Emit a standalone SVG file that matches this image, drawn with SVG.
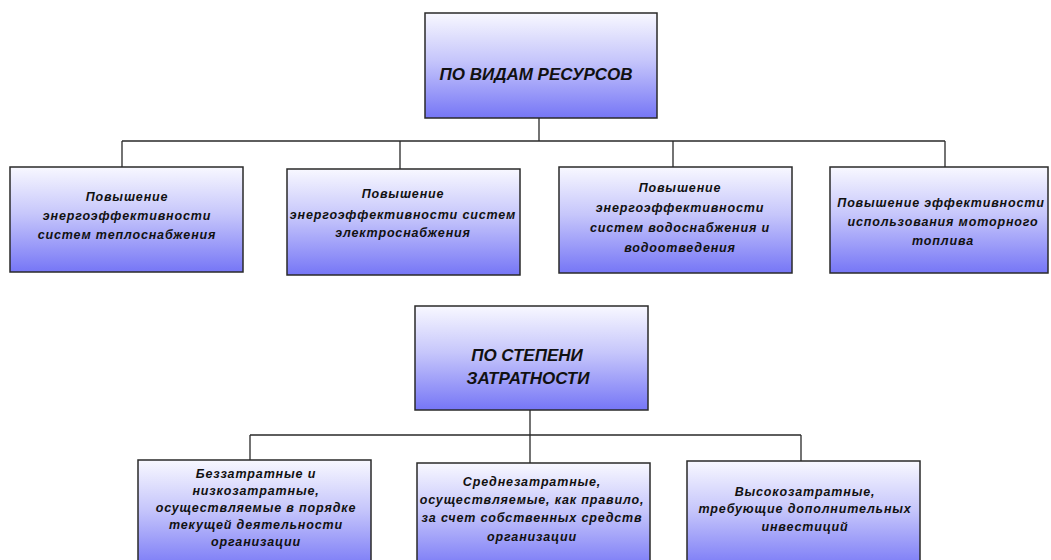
<svg xmlns="http://www.w3.org/2000/svg" width="1051" height="560" viewBox="0 0 1051 560">
<defs>
<linearGradient id="g" x1="0" y1="0" x2="0" y2="1">
<stop offset="0" stop-color="#f8f8ff"/>
<stop offset="0.45" stop-color="#c6c6fb"/>
<stop offset="1" stop-color="#7676f6"/>
</linearGradient>
<style>
.box{fill:url(#g);stroke:#2a2a2a;stroke-width:1.5}
.t{font-family:"Liberation Sans",Arial,sans-serif;font-style:italic;font-weight:bold;font-size:12.5px;letter-spacing:0.85px;fill:#111;text-anchor:middle}
.h{font-family:"Liberation Sans",Arial,sans-serif;font-style:italic;font-weight:bold;font-size:17px;letter-spacing:0px;fill:#111;text-anchor:middle}
.c{fill:none;stroke:#2a2a2a;stroke-width:1.3}
</style>
</defs>
<rect width="1051" height="560" fill="#ffffff"/>
<g id="connectors">
<path class="c" d="M539 118V141M122 141H945M122 141V167M400 141V169M673 141V167M945 141V167"/>
<path class="c" d="M530 410V435M250 435H801M250 435V460M530 435V463M801 435V461"/>
</g>
<g id="n-resources">
<rect class="box" x="425" y="13" width="232" height="105"/>
<text class="h" x="536" y="80">ПО ВИДАМ РЕСУРСОВ</text>
</g>
<g id="n-heat">
<rect class="box" x="10" y="167" width="233" height="105"/>
<text class="t" x="127" y="201">Повышение</text>
<text class="t" x="127" y="220">энергоэффективности</text>
<text class="t" x="127" y="239">систем теплоснабжения</text>
</g>
<g id="n-electric">
<rect class="box" x="287" y="169" width="233" height="106"/>
<text class="t" x="403" y="198">Повышение</text>
<text class="t" x="403" y="219">энергоэффективности систем</text>
<text class="t" x="403" y="237">электроснабжения</text>
</g>
<g id="n-water">
<rect class="box" x="559" y="167" width="233" height="106"/>
<text class="t" x="680" y="192">Повышение</text>
<text class="t" x="680" y="212">энергоэффективности</text>
<text class="t" x="680" y="232">систем водоснабжения и</text>
<text class="t" x="680" y="252">водоотведения</text>
</g>
<g id="n-fuel">
<rect class="box" x="830" y="167" width="218" height="106"/>
<text class="t" x="941" y="207">Повышение эффективности</text>
<text class="t" x="943" y="226">использования моторного</text>
<text class="t" x="943" y="245">топлива</text>
</g>
<g id="n-cost">
<rect class="box" x="415" y="306" width="233" height="104"/>
<text class="h" x="527" y="361">ПО СТЕПЕНИ</text>
<text class="h" x="528" y="384">ЗАТРАТНОСТИ</text>
</g>
<g id="n-low">
<rect class="box" x="138" y="460" width="233" height="110"/>
<text class="t" x="256" y="478">Беззатратные и</text>
<text class="t" x="256" y="495">низкозатратные,</text>
<text class="t" x="256" y="512">осуществляемые в порядке</text>
<text class="t" x="256" y="529">текущей деятельности</text>
<text class="t" x="256" y="546">организации</text>
</g>
<g id="n-mid">
<rect class="box" x="417" y="463" width="233" height="107"/>
<text class="t" x="532" y="486">Среднезатратные,</text>
<text class="t" x="532" y="504">осуществляемые, как правило,</text>
<text class="t" x="532" y="522">за счет собственных средств</text>
<text class="t" x="532" y="541">организации</text>
</g>
<g id="n-high">
<rect class="box" x="687" y="461" width="233" height="109"/>
<text class="t" x="805" y="496">Высокозатратные,</text>
<text class="t" x="805" y="513">требующие дополнительных</text>
<text class="t" x="805" y="531">инвестиций</text>
</g>
</svg>
